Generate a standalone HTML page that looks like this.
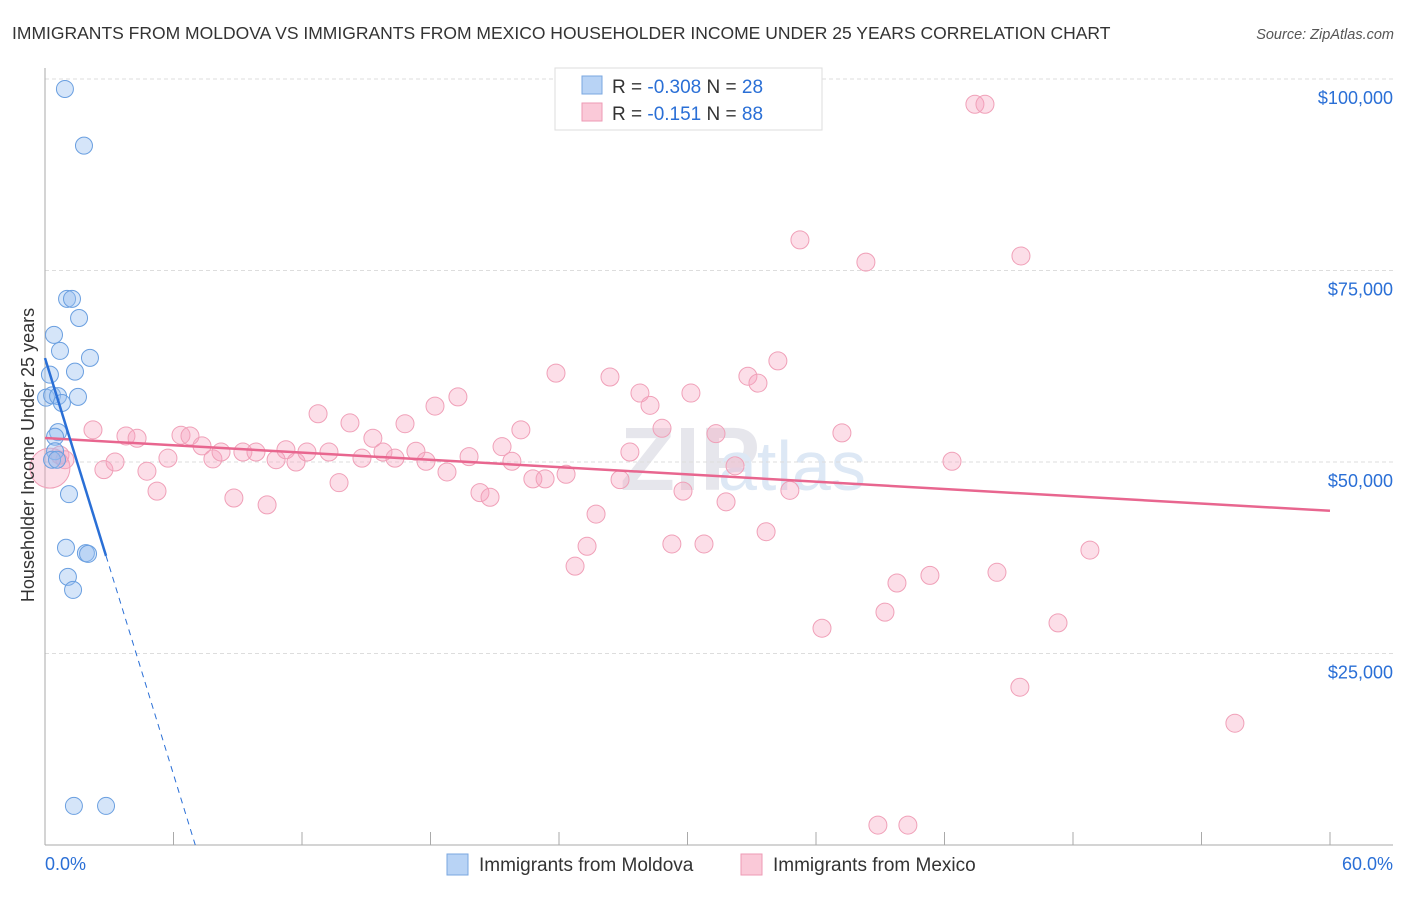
<!DOCTYPE html>
<html><head><meta charset="utf-8"><style>
body{margin:0;background:#fff;font-family:"Liberation Sans",sans-serif;}
svg text{font-family:"Liberation Sans",sans-serif;}
</style></head><body>
<svg id="c" width="1406" height="892" xmlns="http://www.w3.org/2000/svg">
<text x="12" y="39" font-size="17.5" fill="#333">IMMIGRANTS FROM MOLDOVA VS IMMIGRANTS FROM MEXICO HOUSEHOLDER INCOME UNDER 25 YEARS CORRELATION CHART</text>
<text x="1394" y="39" font-size="14.5" fill="#555" font-style="italic" text-anchor="end">Source: ZipAtlas.com</text>
<text x="620" y="490" font-size="90" fill="#e6e6ec" font-family="Liberation Serif" font-weight="bold">ZIP</text>
<text x="718" y="490" font-size="70" fill="#dde8f5">atlas</text>
<g id="grid"></g>
<g id="axes"></g>
<g id="pts"></g>
<g id="lines"></g>
<text transform="translate(34,455) rotate(-90)" font-size="18" fill="#333" text-anchor="middle">Householder Income Under 25 years</text>
<g>
<rect x="555" y="68" width="267" height="62" fill="#fff" stroke="#ddd"/>
<rect x="582" y="76" width="20" height="18" fill="#b8d3f5" stroke="#7aa7e0"/>
<rect x="582" y="103" width="20" height="18" fill="#fac9d8" stroke="#ee9ab4"/>
<text x="612" y="93" font-size="19" fill="#333">R = <tspan fill="#2a6fd6">-0.308</tspan>   N = <tspan fill="#2a6fd6">28</tspan></text>
<text x="612" y="120" font-size="19" fill="#333">R =   <tspan fill="#2a6fd6">-0.151</tspan>   N = <tspan fill="#2a6fd6">88</tspan></text>
</g>
<g>
<rect x="447" y="854" width="21" height="21" fill="#b8d3f5" stroke="#7aa7e0"/>
<text x="479" y="871" font-size="19" fill="#333">Immigrants from Moldova</text>
<rect x="741" y="854" width="21" height="21" fill="#fac9d8" stroke="#ee9ab4"/>
<text x="773" y="871" font-size="19" fill="#333">Immigrants from Mexico</text>
</g>
<text x="45" y="870" font-size="18" fill="#2a6fd6">0.0%</text>
<text x="1393" y="870" font-size="18" fill="#2a6fd6" text-anchor="end">60.0%</text>
</svg>
<script>
const yTicks=[25000,50000,75000,100000];
const yTickLabels=["$25,000","$50,000","$75,000","$100,000"];
const moldovaX=[0.93,1.82,1.03,1.26,1.59,0.42,0.70,2.10,1.40,0.23,0.05,0.33,0.61,0.79,1.54,0.61,0.47,0.47,0.33,0.56,1.12,0.98,1.91,2.01,1.07,1.31,1.35,2.85];
const moldovaY=[98.7,91.3,71.3,71.3,68.8,66.6,64.5,63.6,61.8,61.4,58.4,58.7,58.6,57.7,58.5,53.9,53.3,51.4,50.3,50.3,45.8,38.8,38.1,38.0,35.0,33.3,5.1,5.1];
const mexicoX=[0.23,0.70,0.93,2.24,2.75,3.27,3.78,4.30,4.76,5.23,5.74,6.35,6.77,7.33,7.84,8.22,8.82,9.24,9.85,10.37,10.79,11.25,11.72,12.23,12.75,13.26,13.73,14.24,14.80,15.31,15.78,16.34,16.81,17.32,17.79,18.21,18.77,19.28,19.80,20.31,20.78,21.34,21.80,22.22,22.78,23.35,23.86,24.33,24.75,25.31,25.73,26.38,26.85,27.31,27.78,28.25,28.81,29.27,29.79,30.16,30.77,31.33,31.80,32.22,32.82,33.29,33.67,34.22,34.78,35.25,36.28,37.21,38.33,38.89,39.22,39.78,40.29,41.32,42.35,43.42,43.89,44.45,45.57,45.52,47.30,48.79,55.56];
const mexicoY=[49.2,50.9,50.3,54.2,49.0,50.0,53.4,53.1,48.8,46.2,50.5,53.5,53.4,52.1,50.4,51.3,45.3,51.3,51.3,44.4,50.3,51.6,50.0,51.3,56.3,51.3,47.3,55.1,50.5,53.1,51.3,50.5,55.0,51.4,50.1,57.3,48.7,58.5,50.7,46.0,45.4,52.0,50.1,54.2,47.8,47.8,61.6,48.4,36.4,39.0,43.2,61.1,47.7,51.3,59.0,57.4,54.4,39.3,46.2,59.0,39.3,53.7,44.8,49.5,61.2,60.3,40.9,63.2,46.3,79.0,28.3,53.8,76.1,2.6,30.4,34.2,2.6,35.2,50.1,96.7,96.7,35.6,76.9,20.6,29.0,38.5,15.9];

const NS="http://www.w3.org/2000/svg";
const X=p=>45+p*1285/60;
const Y=k=>845-k*1000*191.5/25000;
function mk(tag,at,parent){const e=document.createElementNS(NS,tag);for(const k in at)e.setAttribute(k,at[k]);parent.appendChild(e);return e;}
const grid=document.getElementById('grid'),axes=document.getElementById('axes'),pts=document.getElementById('pts'),lines=document.getElementById('lines');
yTicks.forEach((v,i)=>{
 const y=Y(v/1000);
 const l=mk('line',{x1:45,x2:1393,y1:y,y2:y,stroke:'#ddd','stroke-dasharray':'4,3'},grid);
 
 
 const t=mk('text',{x:1393,y:y+25,'font-size':18,fill:'#2a6fd6','text-anchor':'end'},grid);
 t.textContent=yTickLabels[i];
 
 
});
const ax1=mk('line',{x1:45,x2:45,y1:68,y2:845,stroke:'#aaa'},axes);


const ax2=mk('line',{x1:45,x2:1393,y1:845,y2:845,stroke:'#aaa'},axes);


for(let i=0;i<=10;i++){const x=X(i*6);
 const tk=mk('line',{x1:x,x2:x,y1:832,y2:845,stroke:'#aaa'},axes);
 
 }
mexicoX.forEach((xv,i)=>{
 const c=mk('circle',{cx:X(xv),cy:Y(mexicoY[i]),r:i==0?20:9,fill:'rgba(245,160,188,0.35)',stroke:'#f0a0b8','stroke-width':1},pts);
 
 
});
moldovaX.forEach((xv,i)=>{
 const c=mk('circle',{cx:X(xv),cy:Y(moldovaY[i]),r:8.5,fill:'rgba(150,190,240,0.4)',stroke:'#6a9fe0','stroke-width':1},pts);
 
 
});
function fit(xs,ys){const n=xs.length;let mx=0,my=0;xs.forEach((x,i)=>{mx+=x;my+=ys[i];});mx/=n;my/=n;let sxy=0,sxx=0;xs.forEach((x,i)=>{sxy+=(x-mx)*(ys[i]-my);sxx+=(x-mx)*(x-mx);});const b=sxy/sxx;return [my-b*mx,b];}
const [ma,mb]=fit(mexicoX,mexicoY);
const pl=mk('line',{x1:X(0),y1:Y(ma),x2:X(60),y2:Y(ma+mb*60),stroke:'#e8668f','stroke-width':2.5},lines);


const [ba,bb]=fit(moldovaX,moldovaY);
const xmax=Math.max(...moldovaX);
const bl=mk('line',{x1:X(0),y1:Y(ba),x2:X(xmax),y2:Y(ba+bb*xmax),stroke:'#2a6fd6','stroke-width':2.5},lines);


const xz=-ba/bb;
const bd=mk('line',{x1:X(xmax),y1:Y(ba+bb*xmax),x2:X(xz),y2:Y(0),stroke:'#2a6fd6','stroke-width':1,'stroke-dasharray':'6,5'},lines);


</script>
</body></html>
